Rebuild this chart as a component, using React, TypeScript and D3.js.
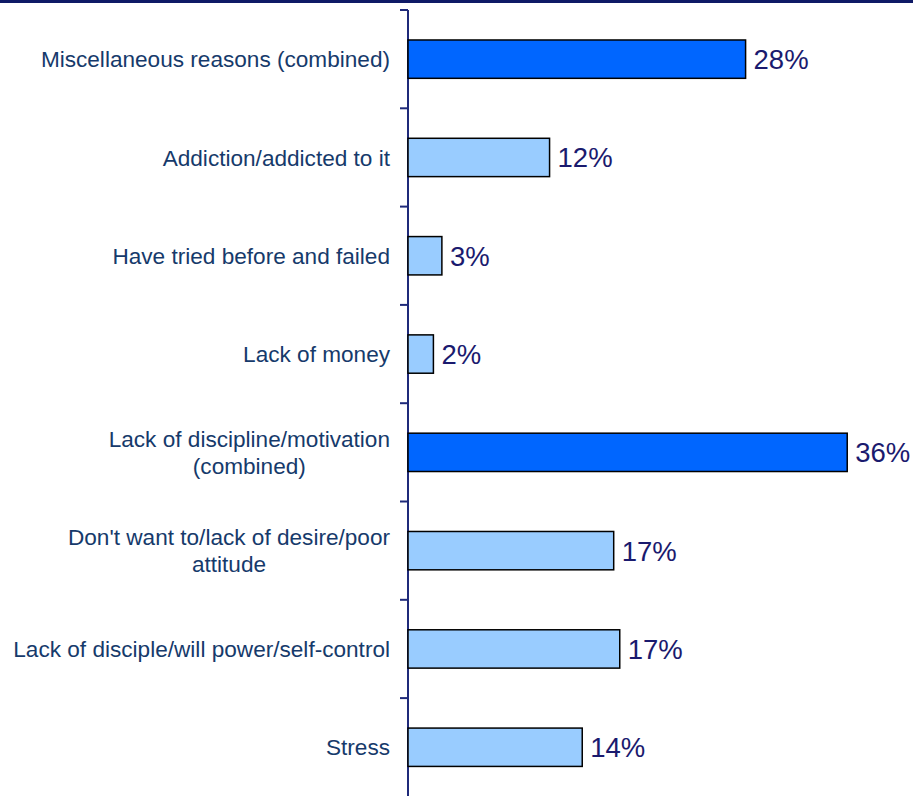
import * as d3 from "d3";

const categories = [
  "Miscellaneous reasons (combined)",
  "Addiction/addicted to it",
  "Have tried before and failed",
  "Lack of money",
  "Lack of discipline/motivation\n(combined)",
  "Don't want to/lack of desire/poor\nattitude",
  "Lack of disciple/will power/self-control",
  "Stress",
];
const values = [27.9, 11.7, 2.8, 2.1, 36.3, 17.0, 17.5, 14.4];
const valueLabels = ["28%", "12%", "3%", "2%", "36%", "17%", "17%", "14%"];
const combined = [true, false, false, false, true, false, false, false];

const width = 913;
const height = 796;
const marginLeft = 408;
const marginTop = 10;
const font = "'Liberation Sans', Arial, sans-serif";
const labelSize = 22.6;
const labelRight = 390;

function textWidth(s: string, size: number) {
  const ctx = document.createElement("canvas").getContext("2d")!;
  ctx.font = `${size}px ${font}`;
  return ctx.measureText(s).width;
}

export default function App() {
  const x = d3.scaleLinear().domain([0, 40]).range([marginLeft, marginLeft + 484]);
  const y = d3
    .scaleBand<string>()
    .domain(categories)
    .range([marginTop, marginTop + 8 * 98.3])
    .paddingInner(0)
    .paddingOuter(0);
  const barH = y.bandwidth() * 0.39;

  return (
    <svg
      width={width}
      height={height}
      style={{ position: "absolute", left: 0, top: 0, background: "#fff" }}
      fontFamily={font}
    >
      <rect x={0} y={0} width={width} height={3} fill="#0f1a66" />
      <line x1={marginLeft} x2={marginLeft} y1={marginTop} y2={height} stroke="#1f2a7a" strokeWidth={2} />
      {categories.map((c) => (
        <line
          key={"t" + c}
          x1={marginLeft - 8}
          x2={marginLeft}
          y1={y(c)!}
          y2={y(c)!}
          stroke="#1f2a7a"
          strokeWidth={2}
        />
      ))}
      {categories.map((c, i) => {
        const cy = y(c)! + y.bandwidth() / 2;
        const lines = c.split("\n");
        const lh = 27;
        const multi = lines.length > 1;
        const widest = multi ? Math.max(...lines.map((l) => textWidth(l, labelSize))) : 0;
        const cx = labelRight - widest / 2;
        return (
          <g key={c}>
            <rect
              x={x(0)}
              y={cy - barH / 2}
              width={x(values[i]) - x(0)}
              height={barH}
              fill={combined[i] ? "#0066ff" : "#99ccff"}
              stroke="#000"
              strokeWidth={1.5}
            />
            <text x={x(values[i]) + 8} y={cy} dy="0.36em" fontSize={27.5} fill="#1a1a6e">
              {valueLabels[i]}
            </text>
            {lines.map((l, j) => (
              <text
                key={j}
                x={multi ? cx : labelRight}
                y={cy + (j - (lines.length - 1) / 2) * lh}
                dy="0.36em"
                fontSize={labelSize}
                fill="#163a6b"
                textAnchor={multi ? "middle" : "end"}
              >
                {l}
              </text>
            ))}
          </g>
        );
      })}
    </svg>
  );
}
